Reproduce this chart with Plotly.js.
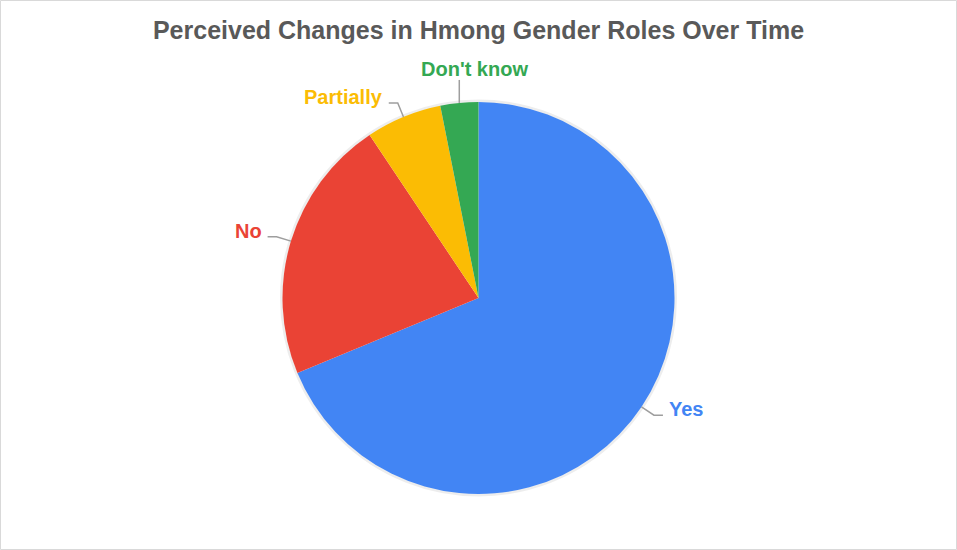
<html>
<head>
<script src="https://cdn.plot.ly/plotly-3.0.1.min.js"></script>
<style>
  body { margin: 0; background: #fff; }
  #chart { width: 957px; height: 550px; }
</style>
</head>
<body>
<div id="chart"></div>
<script>
  // responses (counts out of 32)
  const answers = ["Yes", "No", "Partially", "Don't know"];
  const counts = [22, 7, 2, 1];
  const sliceColors = ["#4285F4", "#EA4335", "#FBBC04", "#34A853"];

  const W = 957, H = 550;
  const domY = [56 / H, 448 / H]; // pie box, radius 196px
  const cx = W / 2;
  const cy = H - (domY[0] + domY[1]) / 2 * H;
  const R = Math.min(W, (domY[1] - domY[0]) * H) / 2;

  const px = x => x / W;
  const py = y => 1 - y / H;

  // soft edge around the pie
  let shapes = [{ type: "circle", xref: "paper", yref: "paper", layer: "below",
    x0: px(cx - R - 1), x1: px(cx + R + 1), y0: py(cy + R + 1), y1: py(cy - R - 1),
    line: { color: "rgba(0,0,0,0.07)", width: 3 } }];
  let annotations = [];

  // leader lines + labels, placed from each slice's mid angle
  let total = counts.reduce((a, b) => a + b, 0);
  let cum = 0;
  counts.forEach((c, i) => {
    let mid = (cum + c / 2) / total * 2 * Math.PI;
    cum += c;
    let s = Math.sin(mid), k = Math.cos(mid);
    let x0 = cx + R * s, y0 = cy - R * k;
    let font = { family: "Liberation Sans, Arial, sans-serif", size: 20, color: sliceColors[i] };
    if (Math.abs(s) < 0.2) {
      // near the top: straight up
      let y1 = y0 - 23;
      shapes.push({ type: "path", xref: "paper", yref: "paper",
        path: `M ${px(x0)} ${py(y0)} L ${px(x0)} ${py(y1)}`,
        line: { color: "#9e9e9e", width: 1.5 } });
      annotations.push({ text: "<b>" + answers[i] + "</b>", xref: "paper", yref: "paper",
        x: px(x0 + 15), y: py(y1 - 11), xanchor: "center", yanchor: "middle",
        showarrow: false, font: font });
    } else {
      let x1 = cx + (R + 15) * s, y1 = cy - (R + 15) * k;
      let dir = s > 0 ? 1 : -1;
      let x2 = x1 + dir * 9;
      shapes.push({ type: "path", xref: "paper", yref: "paper",
        path: `M ${px(x0)} ${py(y0)} L ${px(x1)} ${py(y1)} L ${px(x2)} ${py(y1)}`,
        line: { color: "#9e9e9e", width: 1.5 } });
      annotations.push({ text: "<b>" + answers[i] + "</b>", xref: "paper", yref: "paper",
        x: px(x2 + dir * 4), y: py(y1 - 6), xanchor: dir > 0 ? "left" : "right", yanchor: "middle",
        showarrow: false, font: font });
    }
  });

  // outer border
  shapes.push({ type: "rect", xref: "paper", yref: "paper",
    x0: 0.5 / W, x1: 1 - 0.5 / W, y0: 0.5 / H, y1: 1 - 0.5 / H,
    line: { color: "#d9d9d9", width: 1 } });

  let data = [{
    type: "pie",
    labels: answers,
    values: counts,
    marker: { colors: sliceColors, line: { width: 0 } },
    sort: false,
    direction: "clockwise",
    rotation: 0,
    textinfo: "none",
    hoverinfo: "label+percent",
    domain: { x: [0, 1], y: domY }
  }];

  let layout = {
    width: W, height: H,
    margin: { l: 0, r: 0, t: 0, b: 0 },
    paper_bgcolor: "#ffffff",
    showlegend: false,
    title: {
      text: "<b>Perceived Changes in Hmong Gender Roles Over Time</b>",
      font: { family: "Liberation Sans, Arial, sans-serif", size: 25, color: "#595959" },
      x: 0.5, xanchor: "center", y: 1 - 30 / H, yanchor: "middle"
    },
    shapes: shapes,
    annotations: annotations
  };

  Plotly.newPlot("chart", data, layout, { displayModeBar: false });
</script>
</body>
</html>
